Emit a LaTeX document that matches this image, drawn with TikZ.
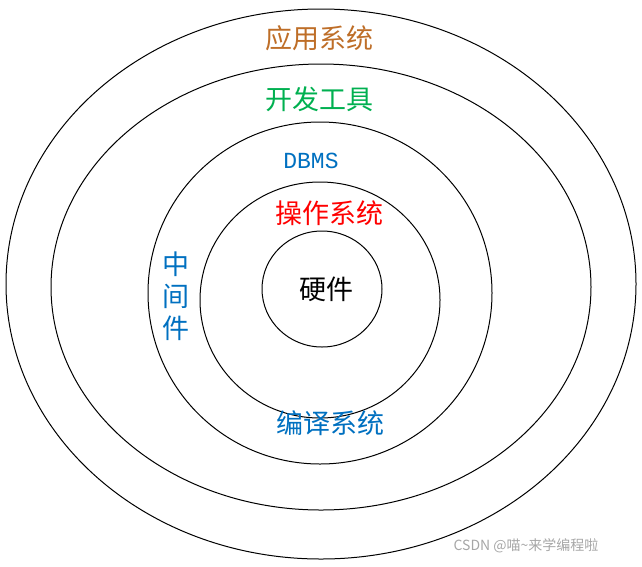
\documentclass[tikz,border=0pt]{standalone}
\usepackage{fontspec}
\newfontfamily\cjk{Noto Sans CJK SC}
\newfontfamily\mono{Liberation Mono}
\definecolor{appbrown}{RGB}{190,110,40}
\definecolor{toolgreen}{RGB}{0,176,80}
\definecolor{dbblue}{RGB}{0,112,192}
\tikzset{ring/.style={draw,line width=1pt},
  lbl/.style={font=\cjk\fontsize{27}{32}\selectfont}}
\begin{document}
\begin{tikzpicture}[x=1pt,y=-1pt]
    \useasboundingbox (0,0) rectangle (642,566);
    \draw[ring] (321,284) ellipse [x radius=315, y radius=275];
    \draw[ring] (321,287) ellipse [x radius=270, y radius=223];
    \draw[ring] (320,293) ellipse [x radius=172, y radius=171];
    \draw[ring] (320,300) ellipse [x radius=120, y radius=118];
    \draw[ring] (322,289) ellipse [x radius=60, y radius=58];

    \node (App) at (319,38) [lbl,text=appbrown] {应用系统};
    \node (Tool) at (319,99) [lbl,text=toolgreen] {开发工具};
    \node (Dbms) at (311,161) [font=\mono\fontsize{23}{26}\selectfont,text=dbblue] {DBMS};
    \node (Os) at (329,213) [lbl,text=red] {操作系统};
    \node (Mid) at (176,296) [lbl,text=dbblue,align=center] {中\\间\\件};
    \node (Comp) at (330,423) [lbl,text=dbblue] {编译系统};
    \node (Hw) at (326,289) [lbl] {硬件};
    \node (Mark) at (526,546) [font=\cjk\fontsize{14}{16}\selectfont,text=gray!70] {CSDN @喵\textasciitilde 来学编程啦};
\end{tikzpicture}
\end{document}
